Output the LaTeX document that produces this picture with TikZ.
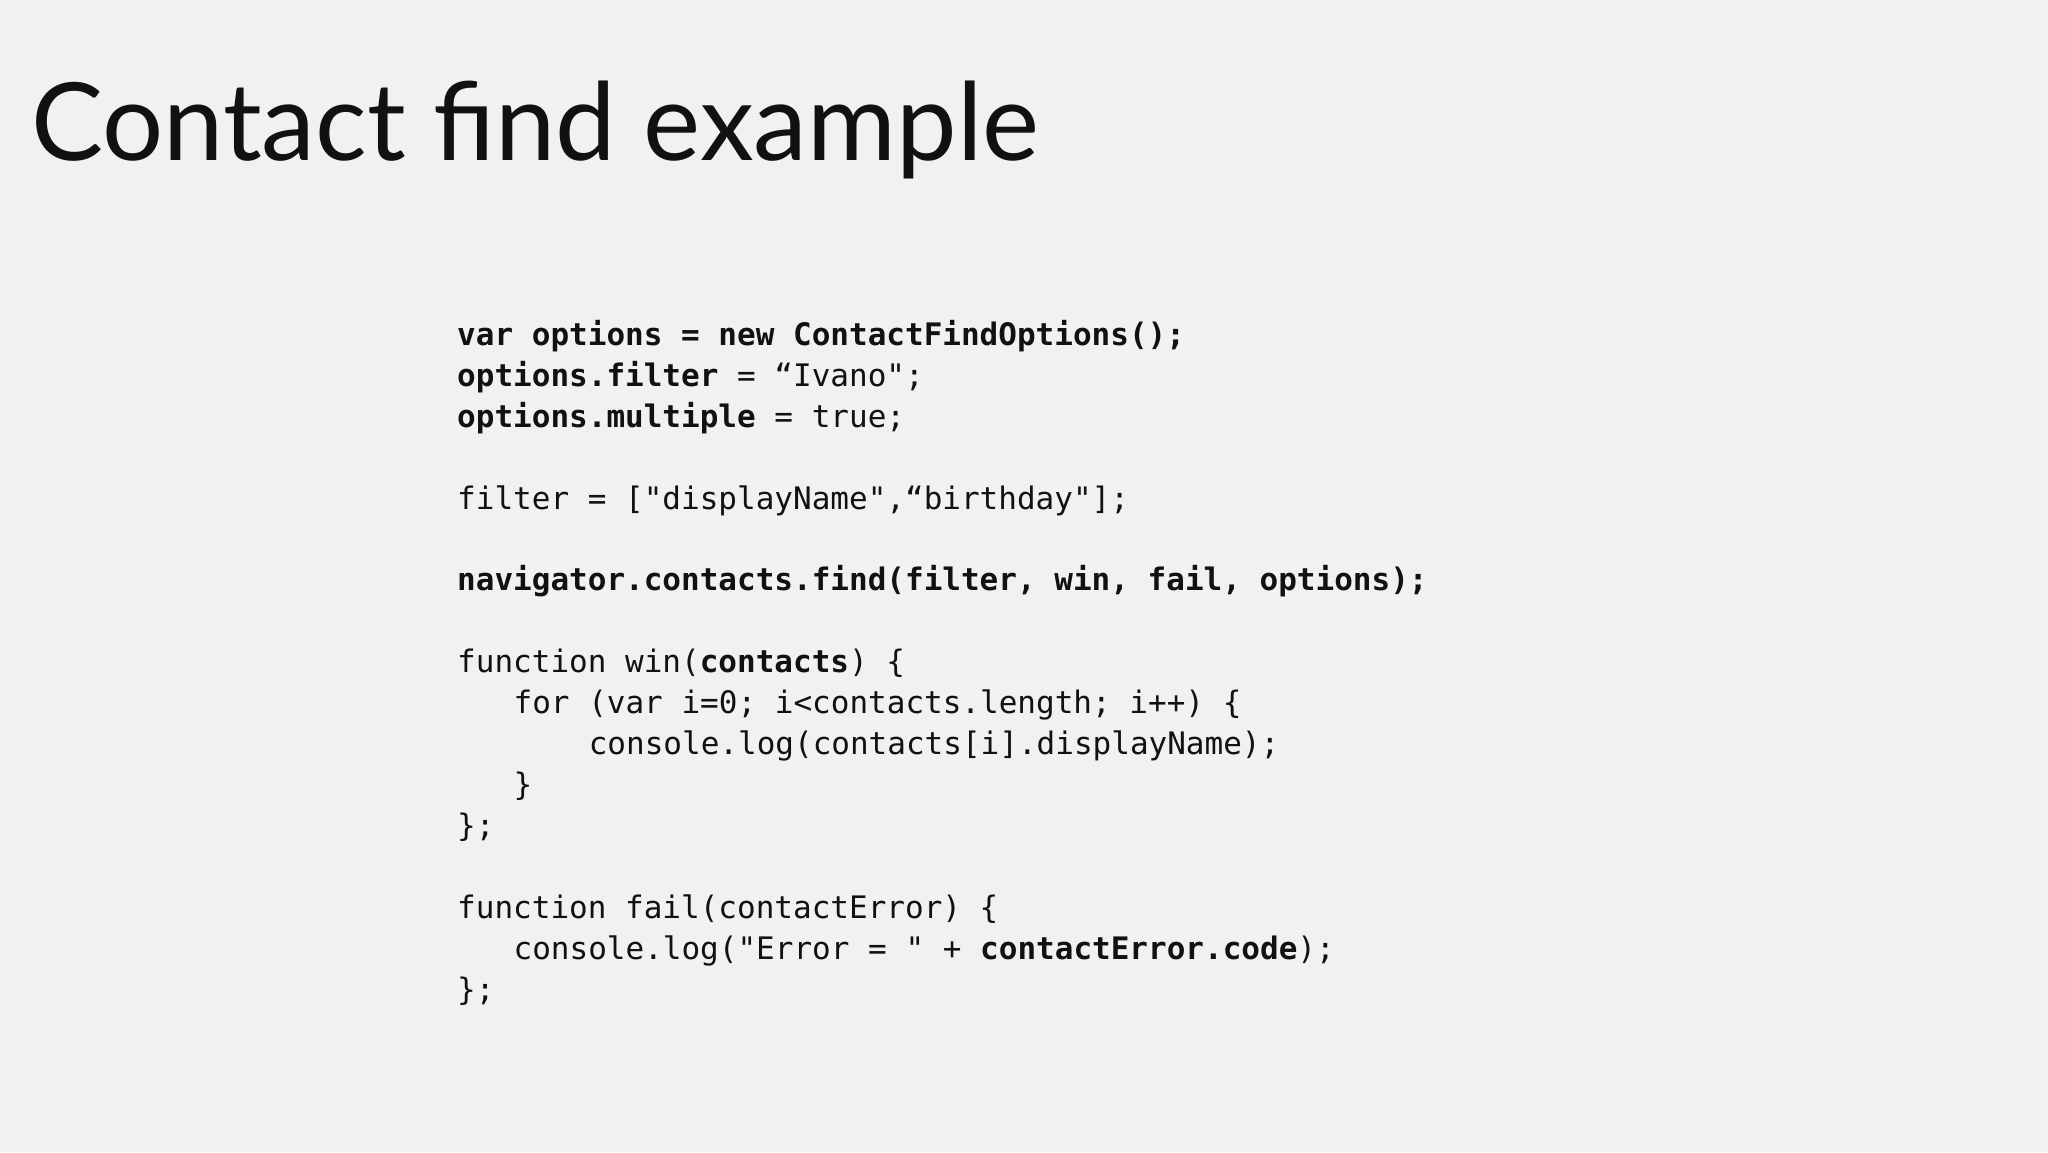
\documentclass[tikz,border=0pt]{standalone}
\usepackage{fontspec}
\setmainfont{Lato}
\setmonofont{DejaVu Sans Mono}
\definecolor{bg}{HTML}{F1F1F1}
\definecolor{ink}{HTML}{111111}
\begin{document}
\begin{tikzpicture}[x=1pt,y=1pt,
  code/.style={anchor=base west,inner sep=0pt,text=ink,font=\fontsize{31}{31}\selectfont\ttfamily}]
\fill[bg] (0,0) rectangle (2048,1152);
\useasboundingbox (0,0) rectangle (2048,1152);
\node[anchor=base west,inner sep=0pt,text=ink,font=\fontsize{108}{108}\selectfont] (title) at (31,991) {Contact find example};
\def\L{457}\def\C{18.8}
\node[code] (l1) at (\L,806) {\textbf{var options = new ContactFindOptions();}};
\node[code] (l2) at (\L,765) {\textbf{options.filter} = “Ivano";};
\node[code] (l3) at (\L,724) {\textbf{options.multiple} = true;};
\node[code] (l5) at (\L,642) {filter = ["displayName",“birthday"];};
\node[code] (l7) at (\L,561) {\textbf{navigator.contacts.find(filter, win, fail, options);}};
\node[code] (l9) at (\L,479) {function win(\textbf{contacts}) \{};
\node[code] (l10) at (\L+3*\C,438) {for (var i=0; i<contacts.length; i++) \{};
\node[code] (l11) at (\L+7*\C,397) {console.log(contacts[i].displayName);};
\node[code] (l12) at (\L+3*\C,356) {\}};
\node[code] (l13) at (\L,315) {\};};
\node[code] (l15) at (\L,234) {function fail(contactError) \{};
\node[code] (l16) at (\L+3*\C,193) {console.log("Error = " + \textbf{contactError.code});};
\node[code] (l17) at (\L,152) {\};};
\end{tikzpicture}
\end{document}
